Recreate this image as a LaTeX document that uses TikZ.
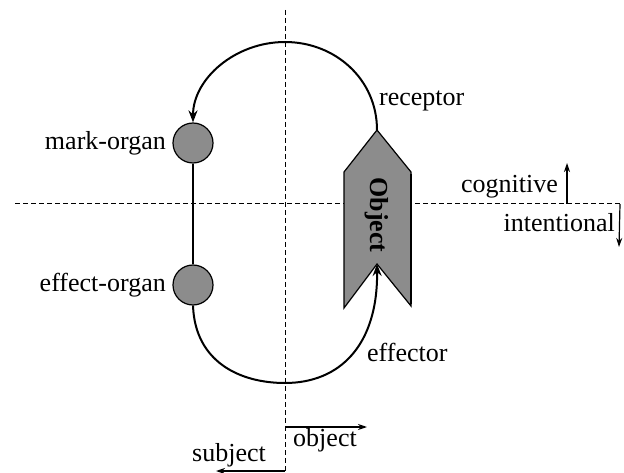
\documentclass[tikz,border=0pt]{standalone}
\usepackage{fontspec}
\setmainfont{Liberation Serif}
\usetikzlibrary{arrows.meta}
\begin{document}
\begin{tikzpicture}[x=1pt,y=-1pt,
  axis/.style={dashed,dash pattern=on 5pt off 3pt,line width=1pt},
  loop/.style={line width=2pt,-{Stealth[length=12pt,width=9pt]}},
  dir/.style={line width=1.2pt,-{Stealth[length=9pt,width=6pt]}},
  organ/.style={circle,draw,line width=1.2pt,fill=black!45,minimum size=40pt,inner sep=0pt},
  lbl/.style={font=\fontsize{26}{31}\selectfont,inner sep=0pt}]
\useasboundingbox (0,0) rectangle (624,473);
% axes
\coordinate (vtop) at (285,10);
\coordinate (vbot) at (285,472);
\coordinate (hl) at (15,204);
\coordinate (hr) at (620,204);
\draw[axis] (vtop) -- (vbot);
\draw[axis] (hl) -- (hr);
% organs
\node[organ] (mark) at (193,143) {};
\node[organ] (effect) at (193,285) {};
\draw[line width=2pt] (mark) -- (effect);
% object chevron
\coordinate (otop) at (377,130);
\coordinate (onotch) at (377,264);
\filldraw[fill=black!45,line width=1.2pt] (otop) -- (411,172) -- (411,306) -- (onotch) -- (344,308) -- (344,172) -- cycle;
\draw[line width=2.5pt] (411,174) -- (411,304);
% receptor loop
\draw[loop] (otop) .. controls (377,79) and (335,42) .. (285,42) .. controls (235,42) and (193,79) .. (mark.north);
% effector loop
\draw[loop] (effect.south) .. controls (195,362) and (240,383) .. (285,383) .. controls (340,383) and (378,345) .. (onotch);
\node[lbl,font=\fontsize{26}{31}\selectfont\bfseries,rotate=-90] (obj) at (377,215) {Object};
% labels
\node[lbl,anchor=west] (rec) at (379,101) {receptor};
\node[lbl,anchor=west] (eff) at (367,352) {effector};
\node[lbl,anchor=east] (markl) at (166,143) {mark-organ};
\node[lbl,anchor=east] (effl) at (166,285) {effect-organ};
\node[lbl,anchor=base east] (cog) at (558,193) {cognitive};
\node[lbl,anchor=base east] (int) at (615,232) {intentional};
\node[lbl,anchor=base] (subj) at (229,461) {subject};
\node[lbl,anchor=base] (objl) at (325,446) {object};
% direction arrows
\coordinate (c0) at (567,204);
\coordinate (c1) at (567,163);
\coordinate (i1) at (619,247);
\coordinate (o0) at (285,427);
\coordinate (o1) at (367,427);
\coordinate (s0) at (285,471);
\coordinate (s1) at (216,471);
\draw[dir] (c0) -- (c1);
\draw[dir] (hr) -- (i1);
\draw[dir] (o0) -- (o1);
\draw[dir] (s0) -- (s1);
\end{tikzpicture}
\end{document}
